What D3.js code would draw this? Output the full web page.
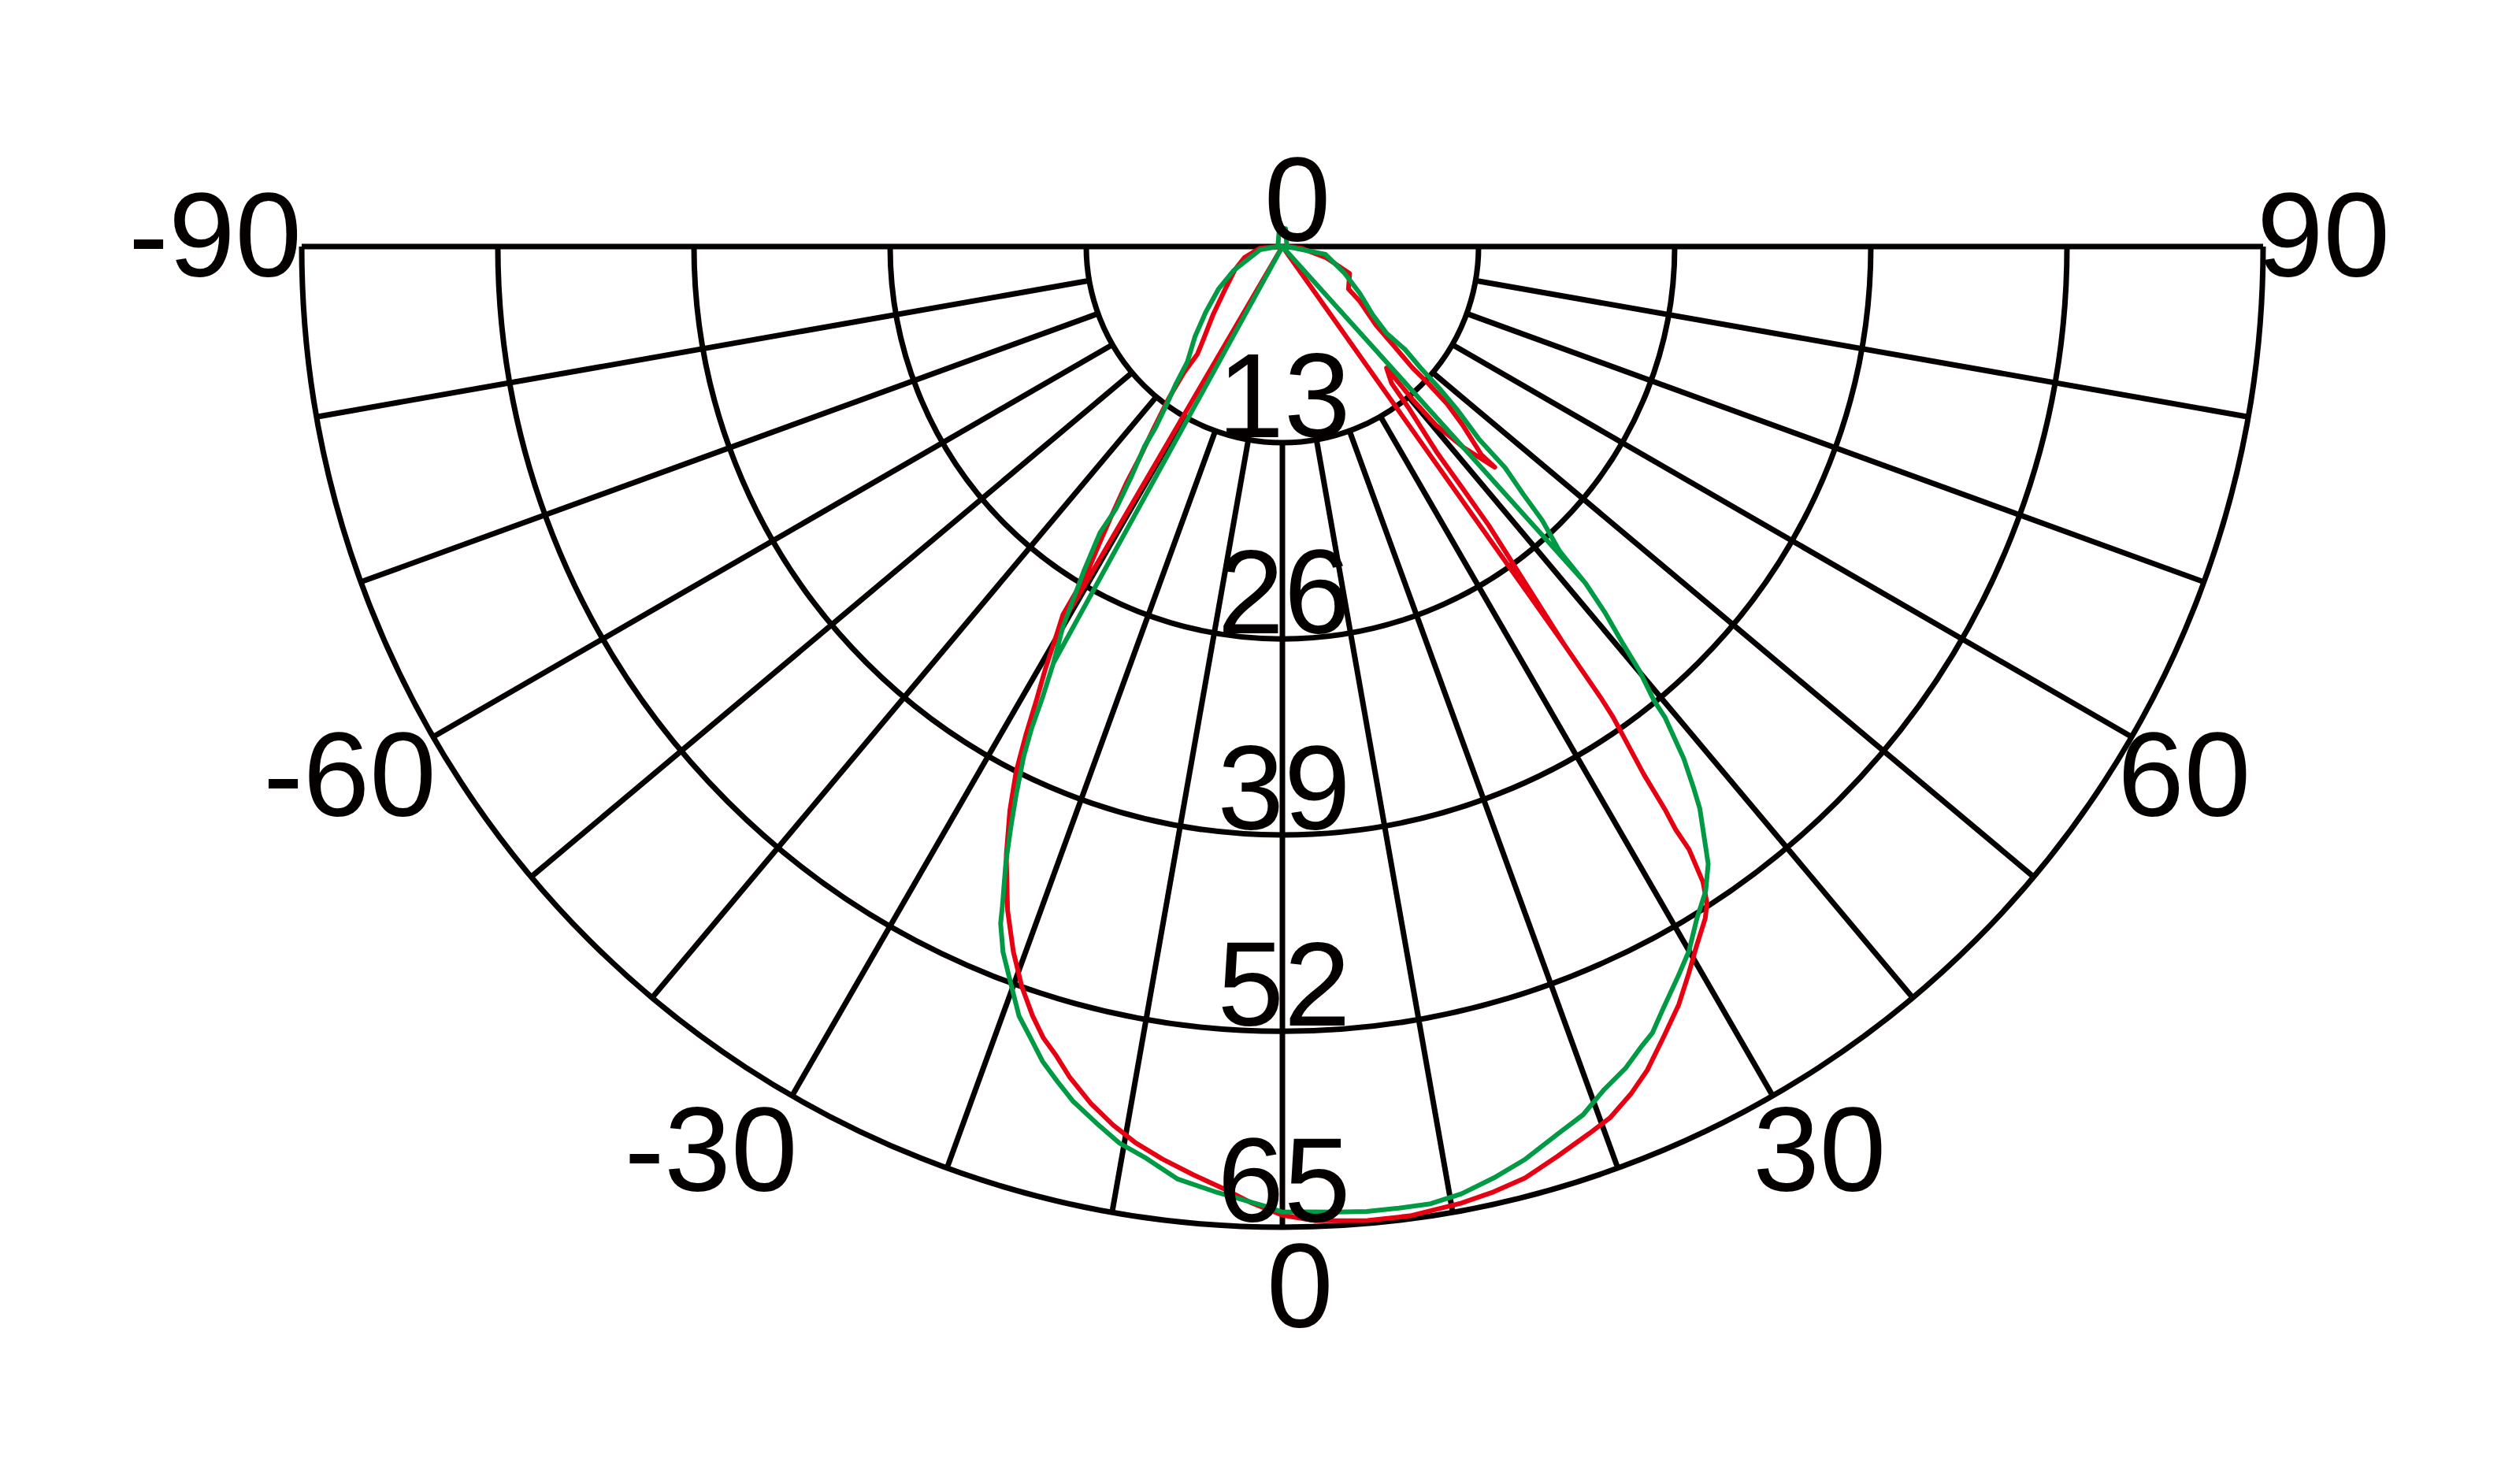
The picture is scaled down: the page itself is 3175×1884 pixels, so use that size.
<!DOCTYPE html>
<html>
<head>
<meta charset="utf-8">
<script src="https://cdn.jsdelivr.net/npm/d3@7"></script>
<style>
  html, body { margin: 0; padding: 0; background: #fff; }
  svg { display: block; }
  text { font-family: "Liberation Sans", Arial, sans-serif; fill: #040000; }
</style>
</head>
<body>
<svg id="chart"></svg>
<script>
// radial rings and angle labels
var radialTicks = [0, 13, 26, 39, 52, 65];
var angleTicks = [-90, -60, -30, 0, 30, 60, 90];
var spokeAngles = [-80, -70, -60, -50, -40, -30, -20, -10, 0, 10, 20, 30, 40, 50, 60, 70, 80];

// red series, [angle, value] in drawing order
var redSeries = [
  [-30.3, 29.5], [-30.8, 28.4], [-30.9, 25.2], [-31.7, 23.0], [-32.5, 20.9], [-33.4, 18.8],
  [-34.1, 16.8], [-35.2, 14.9], [-36.8, 12.6], [-38.0, 10.6], [-38.3, 9.1], [-40.1, 8.2],
  [-45.3, 6.5], [-53.5, 4.7], [-64.0, 3.5], [-74.0, 2.6], [-86.0, 1.5], [-88.0, 0.6],
  [88.0, 0.6], [85.0, 1.25], [75.7, 3.0], [68.2, 4.8], [57.3, 5.2], [54.7, 6.3], [50.0, 8.1],
  [48.2, 10.0], [47.0, 11.8], [46.8, 13.3], [46.3, 15.1], [45.3, 16.8], [43.7, 19.1], [43.9, 20.3],
  [42.0, 17.9], [40.7, 15.6], [40.4, 13.3], [40.6, 10.6], [38.6, 11.6], [38.0, 13.7],
  [36.9, 17.0], [36.7, 20.0], [36.5, 23.0], [35.3, 32.4],
  [35.2, 36.7], [35.1, 38.1], [34.4, 42.4], [34.2, 45.1], [34.0, 46.6], [34.0, 48.2],
  [33.5, 50.5], [32.9, 51.8], [32.2, 52.6], [30.6, 53.9], [29.2, 55.2], [27.6, 56.7],
  [25.7, 58.2], [23.9, 59.7], [22.4, 60.7], [20.6, 61.7], [19.1, 62.2], [16.8, 63.0],
  [14.6, 63.8], [12.6, 64.2], [10.6, 64.5], [7.5, 64.8], [5.0, 64.8], [1.9, 64.6], [0, 64.2],
  [-1.9, 63.4], [-3.5, 62.6], [-5.5, 61.8], [-7.5, 61.0], [-9.3, 60.2], [-10.9, 59.3],
  [-12.6, 58.2], [-14.4, 56.8], [-15.6, 55.7], [-16.8, 54.8], [-18.0, 53.6], [-19.4, 52.0],
  [-20.9, 50.0], [-22.5, 47.6], [-24.4, 44.3], [-25.8, 41.5], [-26.9, 39.0], [-27.7, 36.6],
  [-28.5, 34.1], [-29.3, 32.1], [-30.3, 29.5],
  [0, 0], [35.3, 32.4]
];

// green series, [angle, value] in drawing order
var greenSeries = [
  [-28.8, 31.5], [-30.0, 29.1], [-30.5, 27.6], [-31.5, 25.1], [-32.5, 22.5], [-32.4, 20.6],
  [-33.3, 18.2], [-34.6, 16.1], [-35.0, 14.7], [-36.4, 12.8], [-37.8, 11.5], [-39.5, 9.9],
  [-44.2, 8.3], [-49.4, 6.7], [-56.3, 5.1], [-63.8, 3.6], [-81.9, 1.5], [-90, 0.3],
  [-170, 1.2], [170, 1.2], [90, 0.3],
  [79.7, 2.9], [66.7, 4.5], [58.8, 6.0], [52.9, 7.5], [50.2, 9.0], [50.0, 10.6], [48.7, 12.2],
  [47.9, 14.0], [47.0, 15.8], [45.6, 18.2], [45.2, 20.8], [44.2, 22.9], [43.5, 25.0],
  [42.3, 27.3], [42.0, 30.0],
  [41.4, 32.3], [40.6, 34.7], [40.1, 36.7], [39.3, 38.9], [39.1, 40.2], [38.1, 43.1],
  [37.2, 45.1], [36.6, 46.4], [34.6, 49.7], [33.3, 51.1], [31.7, 52.3], [30.0, 53.9],
  [28.5, 55.0], [26.5, 56.5], [25.2, 57.6], [24.2, 58.1], [22.7, 59.0], [20.9, 59.8],
  [19.1, 60.9], [17.2, 61.6], [14.9, 62.6], [12.8, 63.3], [10.7, 63.9], [8.8, 64.2],
  [6.9, 64.2], [5.0, 64.2], [3.2, 64.1], [1.3, 64.0], [0, 64.0],
  [-1.1, 63.6], [-2.5, 63.2], [-4.1, 62.8], [-6.4, 62.2], [-8.5, 61.1], [-10.3, 60.4],
  [-11.8, 59.5], [-13.8, 58.3], [-15.1, 57.3], [-16.4, 56.3], [-17.7, 55.0], [-18.9, 53.9],
  [-20.2, 52.1], [-21.6, 50.3], [-22.6, 48.6], [-23.0, 47.5], [-24.2, 44.7], [-25.1, 42.4],
  [-25.9, 40.4], [-26.9, 37.9], [-27.5, 36.0], [-28.0, 33.9], [-28.8, 31.5],
  [0, 0], [42.0, 30.0]
];

var Config = {
  Width: 3175,
  Height: 1884,
  CenterX: 1628,
  CenterY: 313,
  Radius: 1245,
  FontSize: 152,
  GridWidth: 7,
  AxisWidth: 7,
  CurveWidth: 6,
  Grid: "#040000",
  Red: "#e60012",
  Green: "#009944",
};

var svg = d3.select("#chart")
  .attr("width", Config.Width)
  .attr("height", Config.Height);

svg.append("rect")
  .attr("width", Config.Width)
  .attr("height", Config.Height)
  .attr("fill", "#fff");

var r = d3.scaleLinear().domain([0, 65]).range([0, Config.Radius]);
// 0 deg points down, -90 left, 90 right
var angle = d3.scaleLinear().domain([-180, 180]).range([2 * Math.PI, 0]);

var radial = d3.lineRadial()
  .angle(function (d) { return angle(d[0]); })
  .radius(function (d) { return r(d[1]); });

function point(a, v) {
  var t = angle(a);
  return [r(v) * Math.sin(t), -r(v) * Math.cos(t)];
}

var g = svg.append("g")
  .attr("transform", "translate(" + Config.CenterX + "," + Config.CenterY + ")");

// rings
g.selectAll(".ring")
  .data(radialTicks.filter(function (v) { return v > 0; }))
  .enter()
  .append("path")
  .attr("class", "ring")
  .attr("d", function (v) {
    var p = d3.path();
    p.arc(0, 0, r(v), 0, Math.PI);
    return p.toString();
  })
  .attr("fill", "none")
  .attr("stroke", Config.Grid)
  .attr("stroke-width", Config.GridWidth);

// spokes
g.selectAll(".spoke")
  .data(spokeAngles)
  .enter()
  .append("path")
  .attr("class", "spoke")
  .attr("d", function (a) { return radial([[a, radialTicks[1]], [a, radialTicks[radialTicks.length - 1]]]); })
  .attr("fill", "none")
  .attr("stroke", Config.Grid)
  .attr("stroke-width", Config.GridWidth);

// horizontal axis -90 .. 90
g.append("path")
  .attr("d", radial([[-90, 65], [90, 65]]))
  .attr("fill", "none")
  .attr("stroke", Config.Grid)
  .attr("stroke-width", Config.AxisWidth);

// curves
[[redSeries, Config.Red], [greenSeries, Config.Green]].forEach(function (s) {
  g.append("path")
    .attr("d", radial(s[0]))
    .attr("fill", "none")
    .attr("stroke", s[1])
    .attr("stroke-width", Config.CurveWidth)
    .attr("stroke-linejoin", "round")
    .attr("stroke-linecap", "round");
});

// ring labels
g.selectAll(".ring-label")
  .data(radialTicks)
  .enter()
  .append("text")
  .attr("class", "ring-label")
  .attr("x", function (v) { return v === 0 ? 19 : 2; })
  .attr("y", function (v) { return r(v) - 7; })
  .attr("text-anchor", "middle")
  .attr("font-size", Config.FontSize)
  .text(function (v) { return v; });

// angle labels
g.selectAll(".angle-label")
  .data(angleTicks)
  .enter()
  .append("text")
  .attr("class", "angle-label")
  .attr("x", function (a) {
    var p = point(a, 65);
    var c = Math.cos(a * Math.PI / 180);
    if (a < 0) return p[0] + 8 * c;
    if (a > 0) return p[0] - 20 * c - 8;
    return p[0] - 20;
  })
  .attr("y", function (a) {
    var p = point(a, 65);
    var c = Math.max(0, Math.cos(a * Math.PI / 180));
    return p[1] + 38 + 89 * Math.sqrt(c);
  })
  .attr("text-anchor", function (a) { return a < 0 ? "end" : "start"; })
  .attr("font-size", Config.FontSize)
  .text(function (a) { return a === 0 ? "0" : a; });
</script>
</body>
</html>
